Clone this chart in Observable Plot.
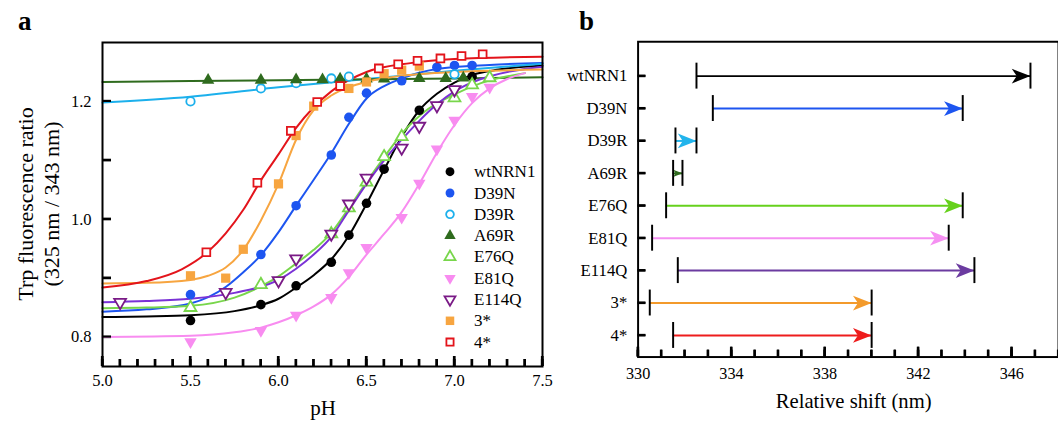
<!DOCTYPE html>
<html><head><meta charset="utf-8">
<script src="https://cdn.jsdelivr.net/npm/d3@7"></script>
<script src="https://cdn.jsdelivr.net/npm/@observablehq/plot@0.6"></script>
<style>
html,body{margin:0;padding:0;background:#fff;overflow:hidden;width:1058px;height:423px;}
#wrap{position:relative;width:1058px;height:423px;overflow:hidden;}
#a{position:absolute;left:0;top:0;}
#b{position:absolute;left:560px;top:0;}
.lab{position:absolute;font-family:"Liberation Serif",serif;font-weight:bold;font-size:27px;line-height:1;}
</style></head><body>
<div id="wrap"><div id="a"></div><div id="b"></div>
<div class="lab" style="left:18px;top:8px">a</div>
<div class="lab" style="left:579px;top:8px">b</div></div>
<script>
// ---------- Panel a data (pH, ratio) ----------
const wtNRN1Points = [[5.5,0.828],[5.9,0.855],[6.1,0.887],[6.3,0.927],[6.4,0.973],[6.5,1.027],[6.6,1.085],[6.8,1.185],[7.1,1.242]];
const wtNRN1Fit = [[5.0,0.834],[5.25,0.835],[5.5,0.837],[5.75,0.844],[5.9,0.854],[6.0,0.865],[6.1,0.884],[6.2,0.905],[6.3,0.932],[6.4,0.972],[6.5,1.026],[6.6,1.084],[6.7,1.14],[6.8,1.185],[6.9,1.213],[7.0,1.232],[7.1,1.245],[7.25,1.254],[7.5,1.261]];
const D39NPoints = [[5.5,0.872],[5.9,0.94],[6.1,1.023],[6.3,1.109],[6.4,1.173],[6.5,1.214],[6.7,1.235],[6.9,1.258],[7.0,1.261],[7.1,1.261]];
const D39NFit = [[5.0,0.843],[5.25,0.847],[5.5,0.857],[5.7,0.885],[5.8,0.91],[5.9,0.939],[6.0,0.978],[6.1,1.023],[6.2,1.067],[6.3,1.112],[6.4,1.162],[6.5,1.205],[6.6,1.226],[6.7,1.239],[6.9,1.255],[7.2,1.262],[7.5,1.265]];
const D39RPoints = [[5.5,1.200],[5.9,1.222],[6.1,1.231],[6.3,1.239],[6.4,1.242],[7.0,1.246]];
const D39RFit = [[5.0,1.198],[5.5,1.208],[6.0,1.224],[6.5,1.238],[7.0,1.252],[7.5,1.264]];
const A69RPoints = [[5.6,1.236],[5.9,1.236],[6.1,1.237],[6.25,1.237],[6.35,1.238],[6.5,1.238],[6.6,1.238],[6.8,1.239],[6.95,1.239],[7.05,1.24]];
const A69RFit = [[5.0,1.233],[6.0,1.236],[7.0,1.239],[7.5,1.241]];
const E76QPoints = [[5.5,0.850],[5.9,0.889],[6.3,0.975],[6.4,1.019],[6.5,1.063],[6.6,1.106],[6.7,1.14],[7.0,1.206],[7.1,1.228],[7.2,1.24]];
const E76QFit = [[5.0,0.849],[5.25,0.85],[5.5,0.853],[5.75,0.867],[5.9,0.886],[6.0,0.903],[6.1,0.925],[6.2,0.948],[6.3,0.977],[6.4,1.019],[6.5,1.063],[6.6,1.105],[6.7,1.145],[6.85,1.187],[7.0,1.212],[7.15,1.231],[7.4,1.248]];
const E81QPoints = [[5.5,0.792],[5.9,0.811],[6.1,0.837],[6.3,0.867],[6.4,0.909],[6.5,0.952],[6.7,1.003],[6.8,1.061],[6.9,1.119],[7.0,1.168],[7.1,1.208],[7.2,1.224]];
const E81QFit = [[5.0,0.800],[5.5,0.802],[5.75,0.808],[5.9,0.816],[6.0,0.825],[6.1,0.837],[6.2,0.852],[6.3,0.872],[6.4,0.902],[6.5,0.94],[6.6,0.975],[6.7,1.012],[6.8,1.06],[6.9,1.113],[7.0,1.16],[7.1,1.197],[7.2,1.222],[7.3,1.238],[7.4,1.248]];
const E114QPoints = [[5.1,0.859],[5.7,0.876],[6.0,0.896],[6.1,0.933],[6.3,0.975],[6.4,1.026],[6.5,1.07],[6.7,1.121],[6.8,1.158],[6.9,1.193],[7.0,1.22]];
const E114QFit = [[5.0,0.859],[5.25,0.861],[5.5,0.865],[5.75,0.875],[6.0,0.897],[6.1,0.916],[6.2,0.94],[6.3,0.97],[6.4,1.015],[6.5,1.06],[6.6,1.1],[6.7,1.135],[6.8,1.167],[6.9,1.195],[7.0,1.217],[7.15,1.238],[7.3,1.25],[7.5,1.259]];
const star3Points = [[5.5,0.904],[5.7,0.900],[5.8,0.949],[6.0,1.06],[6.1,1.142],[6.2,1.192],[6.4,1.222],[6.5,1.233],[6.6,1.247],[6.7,1.253],[6.8,1.26]];
const star3Fit = [[5.0,0.891],[5.25,0.892],[5.5,0.897],[5.6,0.904],[5.7,0.918],[5.8,0.948],[5.9,0.998],[6.0,1.06],[6.1,1.135],[6.2,1.185],[6.3,1.21],[6.4,1.224],[6.5,1.233],[6.75,1.245],[7.0,1.25],[7.5,1.254]];
const star4Points = [[5.59,0.944],[5.88,1.062],[6.07,1.150],[6.22,1.199],[6.35,1.226],[6.57,1.256],[6.68,1.263],[6.79,1.269],[6.92,1.273],[7.04,1.277],[7.16,1.28]];
const star4Fit = [[5.0,0.884],[5.25,0.895],[5.45,0.915],[5.6,0.945],[5.7,0.976],[5.8,1.016],[5.9,1.066],[6.0,1.11],[6.1,1.155],[6.2,1.19],[6.3,1.217],[6.4,1.236],[6.5,1.25],[6.75,1.265],[7.0,1.272],[7.5,1.276]];

const phTicksMajor = [5.0, 5.5, 6.0, 6.5, 7.0, 7.5];
const ratioTicksLabeled = [0.8, 1.0, 1.2];

// ---------- Panel b data ----------
const shiftNames = ["wtNRN1","D39N","D39R","A69R","E76Q","E81Q","E114Q","3*","4*"];
const shiftStart = [332.5, 333.2, 331.6, 331.5, 331.2, 330.6, 331.7, 330.5, 331.5];
const shiftEnd   = [346.8, 343.9, 332.5, 331.9, 343.9, 343.3, 344.4, 340.0, 340.0];
const shiftTicksLabeled = [330, 334, 338, 342, 346];

// ---------- styles ----------
const FONT = '"Liberation Serif", serif';
const series = [
  {name:"wtNRN1", pts:wtNRN1Points, fit:wtNRN1Fit, mc:"#000000", lc:"#000000", ac:"#000000", sym:"circle", open:false, rot:0, r:4.8},
  {name:"D39N", pts:D39NPoints, fit:D39NFit, mc:"#1d55f0", lc:"#1d55f0", ac:"#1d55f0", sym:"circle", open:false, rot:0, r:4.8},
  {name:"D39R", pts:D39RPoints, fit:D39RFit, mc:"#1cb0ec", lc:"#1cb0ec", ac:"#22b4ec", sym:"circle", open:true, rot:0, r:4.2},
  {name:"A69R", pts:A69RPoints, fit:A69RFit, mc:"#2f6b1e", lc:"#2f6b1e", ac:"#2f6b1e", sym:"triangle", open:false, rot:0, r:4.6},
  {name:"E76Q", pts:E76QPoints, fit:E76QFit, mc:"#78d64b", lc:"#78d64b", ac:"#66d11c", sym:"triangle", open:true, rot:0, r:4.4},
  {name:"E81Q", pts:E81QPoints, fit:E81QFit, mc:"#f88cf0", lc:"#f88cf0", ac:"#f590f2", sym:"triangle", open:false, rot:180, r:4.6},
  {name:"E114Q", pts:E114QPoints, fit:E114QFit, mc:"#7a1a86", lc:"#7a32d6", ac:"#6b3ba0", sym:"triangle", open:true, rot:180, r:4.4},
  {name:"3*", pts:star3Points, fit:star3Fit, mc:"#f7a540", lc:"#f7a540", ac:"#f39a2b", sym:"square", open:false, rot:0, r:5.2},
  {name:"4*", pts:star4Points, fit:star4Fit, mc:"#e3141b", lc:"#e3141b", ac:"#ee1c1c", sym:"square", open:true, rot:0, r:4.4}
];

// inward tick helper (drawn on top, positioned through the plot's own scales)
function inwardTicks(svg, scale, values, orient, len, frame) {
  const g = d3.select(svg).append("g").attr("fill", "#000").attr("stroke", "none");
  values.forEach(v => {
    const p = scale.apply(v) + (scale.bandwidth ? scale.bandwidth / 2 : 0);
    if (orient === "bottom") g.append("rect").attr("x", p - 1.1).attr("y", frame.bottom - len).attr("width", 2.2).attr("height", len);
    else g.append("rect").attr("x", frame.left).attr("y", p - 1.1).attr("width", len).attr("height", 2.2);
  });
}

// ---------- Panel a ----------
const phMinor = d3.range(50, 76).map(v => v / 10);
const ratioMinor = d3.range(8, 13).map(v => v / 10);
const A_W = 560, A_H = 423, A_ML = 102, A_MR = 18, A_MT = 42, A_MB = 57;
const aInnerH = A_H - A_MT - A_MB, aInnerW = A_W - A_ML - A_MR;

const lineMarks = series.map(s => Plot.line(s.fit, {x: d => d[0], y: d => d[1], stroke: s.lc, strokeWidth: 2, curve: "monotone-x"}));
const dotMarks = series.map(s => Plot.dot(s.pts, {
  x: d => d[0], y: d => d[1], symbol: s.sym, r: s.r, rotate: s.rot,
  fill: s.open ? "#fff" : s.mc, stroke: s.open ? s.mc : "none", strokeWidth: s.open ? 1.8 : 0
}));

const A = Plot.plot({
  width: A_W, height: A_H,
  marginLeft: A_ML, marginRight: A_MR, marginTop: A_MT, marginBottom: A_MB,
  style: {fontFamily: FONT, fontSize: "16.5px", color: "#000", overflow: "visible"},
  x: {domain: [5, 7.5]},
  y: {domain: [0.75, 1.3]},
  marks: [
    Plot.tickX(phMinor, {x: d => d, insetTop: aInnerH - 7, stroke: "#000", strokeWidth: 2.2}),
    Plot.tickX(phTicksMajor, {x: d => d, insetTop: aInnerH - 10, stroke: "#000", strokeWidth: 2.2}),
    Plot.tickY(ratioMinor, {y: d => d, insetRight: aInnerW - 9, stroke: "#000", strokeWidth: 2.2}),
    Plot.axisX({ticks: phTicksMajor, tickSize: 0, tickPadding: 8, tickFormat: d3.format(".1f"), label: null, fontSize: 16.5}),
    Plot.axisY({ticks: ratioTicksLabeled, tickSize: 0, tickPadding: 11, tickFormat: d3.format(".1f"), label: null, fontSize: 16.5}),
    ...lineMarks,
    ...dotMarks,
    Plot.frame({stroke: "#000", strokeWidth: 2})
  ]
});
document.getElementById("a").appendChild(A);
const aFrame = {left: A_ML, bottom: A_H - A_MB};
inwardTicks(A, A.scale("x"), phMinor, "bottom", 7, aFrame);
inwardTicks(A, A.scale("x"), phTicksMajor, "bottom", 10, aFrame);
inwardTicks(A, A.scale("y"), ratioMinor, "left", 9, aFrame);

const svgA = d3.select(A);
svgA.append("text").attr("x", 323).attr("y", 408).attr("text-anchor", "middle").attr("dominant-baseline", "central")
  .style("font-family", FONT).style("font-size", "21px").attr("fill", "#000").text("pH");
svgA.append("text").attr("transform", "translate(25,204) rotate(-90)").attr("text-anchor", "middle").attr("dominant-baseline", "central")
  .style("font-family", FONT).style("font-size", "22px").attr("fill", "#000").text("Trp fluorescence ratio");
svgA.append("text").attr("transform", "translate(51,204) rotate(-90)").attr("text-anchor", "middle").attr("dominant-baseline", "central")
  .style("font-family", FONT).style("font-size", "22px").attr("fill", "#000").text("(325 nm / 343 nm)");
const symMap = {circle: d3.symbolCircle, triangle: d3.symbolTriangle, square: d3.symbolSquare};
const lg = svgA.append("g").attr("text-anchor", "start");
series.forEach((s, i) => {
  const y = 171.7 + i * 21.3;
  lg.append("path")
    .attr("transform", `translate(450,${y}) rotate(${s.rot})`)
    .attr("d", d3.symbol(symMap[s.sym], Math.PI * s.r * s.r * 0.85)())
    .attr("fill", s.open ? "#fff" : s.mc).attr("stroke", s.open ? s.mc : "none").attr("stroke-width", s.open ? 1.8 : 0);
  lg.append("text").attr("x", 474).attr("y", y).attr("text-anchor", "start").attr("dominant-baseline", "central")
    .style("font-family", FONT).style("font-size", "17px").attr("fill", "#000").text(s.name);
});

// ---------- Panel b ----------
const shiftRows = shiftNames.map((n, i) => ({name: n, start: shiftStart[i], end: shiftEnd[i], color: series[i].ac}));
const stealth = {
  draw(ctx, size) {
    const s = Math.sqrt(size / Math.PI) / 10;
    const L = 19 * s, H = 7.5 * s, n = 5 * s;
    ctx.moveTo(0, 0); ctx.lineTo(-L, -H); ctx.lineTo(-L + n, 0); ctx.lineTo(-L, H); ctx.closePath();
  }
};
const shiftMinor = d3.range(330, 349);
const B_W = 507, B_H = 423, B_ML = 79, B_MR = 0, B_MT = 42, B_MB = 60;
const bInnerH = B_H - B_MT - B_MB, bInnerW = B_W - B_ML - B_MR;

const B = Plot.plot({
  width: B_W, height: B_H,
  marginLeft: B_ML, marginRight: B_MR, marginTop: B_MT, marginBottom: B_MB,
  style: {fontFamily: FONT, fontSize: "16.5px", color: "#000", overflow: "visible"},
  x: {domain: [330, 348]},
  y: {type: "band", domain: shiftNames, range: [60.5, 357.5], paddingInner: 0.2, paddingOuter: 0.1, round: false},
  r: {type: "identity"},
  marks: [
    Plot.tickX(shiftMinor, {x: d => d, insetTop: bInnerH - 7, stroke: "#000", strokeWidth: 2.2}),
    Plot.tickX(shiftTicksLabeled, {x: d => d, insetTop: bInnerH - 10, stroke: "#000", strokeWidth: 2.2}),
    Plot.tickY(shiftNames, {y: d => d, insetRight: bInnerW - 8, stroke: "#000", strokeWidth: 2.2}),
    Plot.axisX({ticks: shiftTicksLabeled, tickSize: 0, tickPadding: 11, tickFormat: d => String(d), label: null, fontSize: 16.5}),
    Plot.axisY({tickSize: 0, tickPadding: 11, label: null, fontSize: 17}),
    Plot.ruleY(shiftRows, {y: "name", x1: "start", x2: "end", stroke: "color", strokeWidth: 2}),
    Plot.dot(shiftRows, {x: "end", y: "name", symbol: stealth, r: d => Math.min(10, (d.end - d.start) * 12.5), fill: "color", stroke: "none"}),
    Plot.tickX(shiftRows, {x: "start", y: "name", stroke: "#000", strokeWidth: 2}),
    Plot.tickX(shiftRows, {x: "end", y: "name", stroke: "#000", strokeWidth: 2}),
    Plot.frame({stroke: "#000", strokeWidth: 2})
  ]
});
document.getElementById("b").appendChild(B);
const bFrame = {left: B_ML, bottom: B_H - B_MB};
inwardTicks(B, B.scale("x"), shiftMinor, "bottom", 7, bFrame);
inwardTicks(B, B.scale("x"), shiftTicksLabeled, "bottom", 10, bFrame);
inwardTicks(B, B.scale("y"), shiftNames, "left", 8, bFrame);
d3.select(B).append("text").attr("x", 299).attr("y", 408).attr("text-anchor", "middle").attr("dominant-baseline", "central")
  .style("font-family", FONT).style("font-size", "21px").attr("fill", "#000").text("Relative shift (nm)");
</script>
</body></html>
